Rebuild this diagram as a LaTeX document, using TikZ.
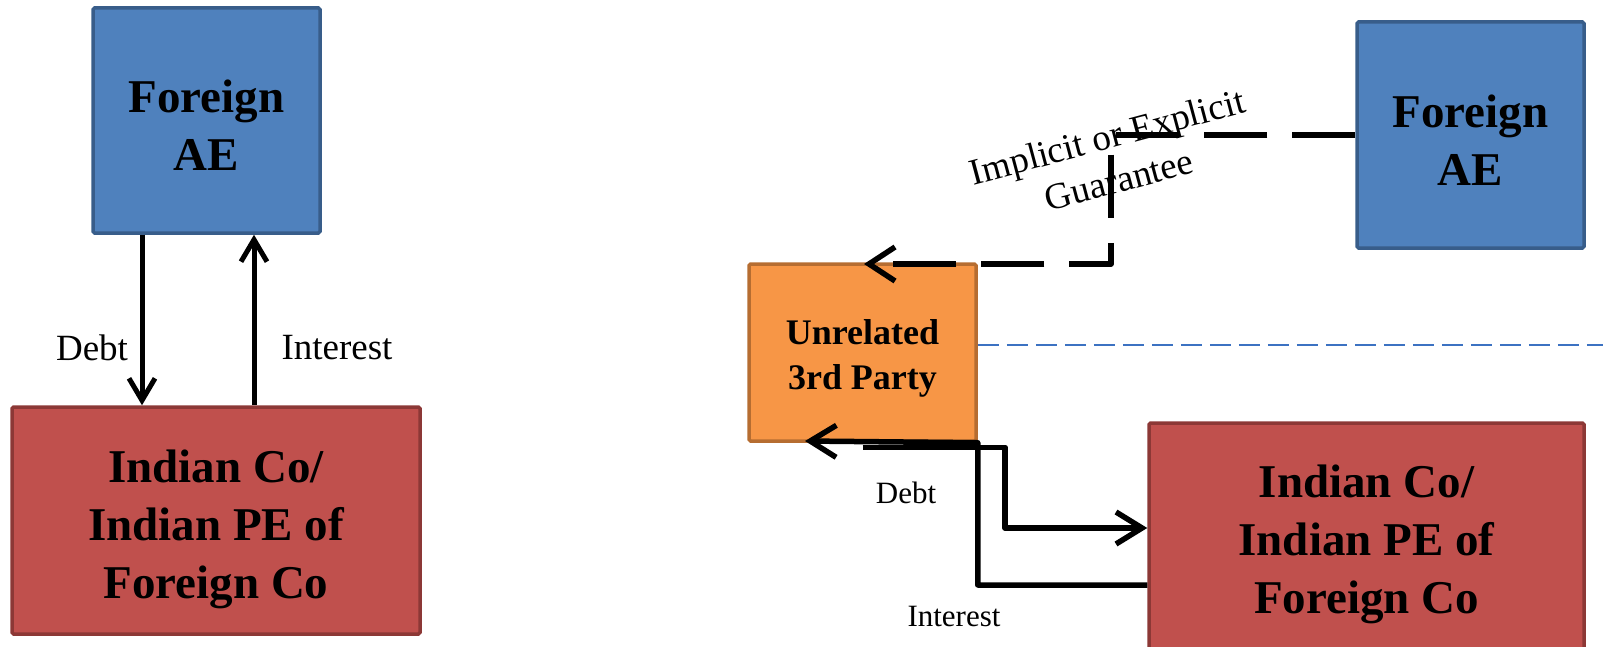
\documentclass[tikz,border=0pt]{standalone}
\usepackage{fontspec}
\setmainfont{Liberation Serif}
\usetikzlibrary{arrows.meta}
\definecolor{bF}{HTML}{4F81BD}
\definecolor{bD}{HTML}{385D8A}
\definecolor{rF}{HTML}{C0504D}
\definecolor{rD}{HTML}{8C3836}
\definecolor{oF}{HTML}{F79646}
\definecolor{oD}{HTML}{B66D31}
\definecolor{sepblue}{HTML}{3C72C2}
\begin{document}
\begin{tikzpicture}[x=1pt,y=-1pt,
  box/.style={rectangle, inner sep=0pt, line width=3.5pt, rounded corners=1.5pt},
  bluebox/.style={box, fill=bF, draw=bD},
  redbox/.style={box, fill=rF, draw=rD},
  orangebox/.style={box, fill=oF, draw=oD},
  boxtext/.style={inner sep=0pt, align=center, font=\bfseries\fontsize{47}{58}\selectfont},
  smallboxtext/.style={inner sep=0pt, align=center, font=\bfseries\fontsize{36}{45}\selectfont},
  flowL/.style={line width=5pt, line join=round, -{Straight Barb[length=22pt,width=26pt]}},
  flowR/.style={line width=5.5pt, line join=round, -{Straight Barb[length=26pt,width=32pt]}},
  guar/.style={line width=5.5pt, line join=round, dash pattern=on 63pt off 25pt,
    -{Straight Barb[length=26pt,width=34pt]}},
  sepline/.style={draw=sepblue, line width=2.8pt, dash pattern=on 21pt off 8pt},
  lab/.style={inner sep=0pt, font=\fontsize{37}{44}\selectfont},
  slab/.style={inner sep=0pt, font=\fontsize{31}{37}\selectfont}
]
\useasboundingbox (0,0) rectangle (1603,647);

% left panel
\node[bluebox, minimum width=227pt, minimum height=225pt] (lAE) at (206.5,120.5) {};
\node[boxtext, yshift=-5pt] (lAEt) at (lAE.center) {Foreign\\AE};
\node[redbox, minimum width=408pt, minimum height=227pt] (lIN) at (216,520.5) {};
\node[boxtext, yshift=-9pt] (lINt) at (lIN.center) {Indian Co/\\Indian PE of\\Foreign Co};
\coordinate (dX) at (142,0);
\coordinate (iX) at (254,0);
\draw[flowL] (lAE.south -| dX) -- (lIN.north -| dX);
\draw[flowL] (lIN.north -| iX) -- (lAE.south -| iX);
\node[lab] (lDebt) at (92,348) {Debt};
\node[lab] (lInt) at (337,348) {Interest};

% right panel
\node[orangebox, minimum width=227pt, minimum height=177pt] (tp) at (862.5,352.5) {};
\node[smallboxtext, yshift=-6pt] (tpt) at (tp.center) {Unrelated\\3rd Party};
\node[bluebox, minimum width=227pt, minimum height=226pt] (rAE) at (1470.5,135) {};
\node[boxtext, yshift=-5pt] (rAEt) at (rAE.center) {Foreign\\AE};
\node[redbox, minimum width=435pt, minimum height=232pt] (rIN) at (1366.5,539) {};
\node[boxtext, yshift=-5pt] (rINt) at (rIN.center) {Indian Co/\\Indian PE of\\Foreign Co};

% separator
\coordinate (sepEnd) at (1603,345);
\draw[sepline] (tp.east |- sepEnd) -- (sepEnd);

% guarantee
\coordinate (gC1) at (1111,135);
\coordinate (gC2) at (1111,264);
\coordinate (gTip) at (864,264);
\draw[guar] (rAE.west) -- (gC1) -- (gC2) -- (gTip);
\node[lab, align=center, rotate=15, font=\fontsize{37}{45}\selectfont] (gLab) at (1113,158) {Implicit or Explicit\\Guarantee};

% debt and interest
\coordinate (dTurn) at (1005,528);
\draw[flowR] (tp.south) ++(0,4.5) -| (dTurn) -- (dTurn -| rIN.west);
\coordinate (iY) at (0,585);
\coordinate (iTip) at (805,441);
\draw[flowR] (rIN.west |- iY) -- (tp.east |- iY) -- (tp.south east) -- (iTip);
\node[slab] (rDebt) at (906,493) {Debt};
\node[slab] (rInt) at (954,616) {Interest};
\end{tikzpicture}
\end{document}
